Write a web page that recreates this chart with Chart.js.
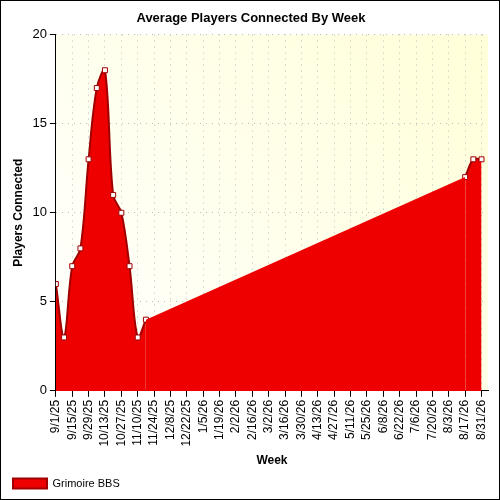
<!DOCTYPE html>
<html><head><script src="https://cdn.jsdelivr.net/npm/chart.js@4"></script>
<style>body{margin:0;background:#fff}#w{width:498px;height:498px;border:1px solid #000;position:relative}</style></head>
<body><div id="w"><canvas id="c" width="498" height="498"></canvas></div>
<script>
const weeks=[0,1,2,3,4,5,6,7,8,9,10,11,50,51,52];
const players=[6,3,7,8,13,17,18,11,10,7,3,4,12,13,13];
const tickLabels=["9/1/25","9/15/25","9/29/25","10/13/25","10/27/25","11/10/25","11/24/25","12/8/25","12/22/25","1/5/26","1/19/26","2/2/26","2/16/26","3/2/26","3/16/26","3/30/26","4/13/26","4/27/26","5/11/26","5/25/26","6/8/26","6/22/26","7/6/26","7/20/26","8/3/26","8/17/26","8/31/26"];
const pts=weeks.map((w,i)=>({x:w,y:players[i]}));
const bg={id:'bg',beforeDraw(ch){const a=ch.chartArea,x=ch.ctx;const g=x.createLinearGradient(a.left,a.bottom,a.right,a.top);g.addColorStop(0,'#ffffff');g.addColorStop(1,'#ffffd8');x.save();x.fillStyle=g;x.fillRect(a.left,a.top,a.right-a.left,a.bottom-a.top);x.restore();}};
const base={borderColor:'#a00000',borderWidth:2,backgroundColor:'#ee0000',fill:'origin',tension:0.35,pointStyle:'rect',pointRadius:3.5,pointBackgroundColor:'#fff',pointBorderColor:'#a00000',pointBorderWidth:1};
new Chart(document.getElementById('c'),{type:'line',
data:{datasets:[
{...base,label:'gap',data:pts.slice(11,13),tension:0,borderWidth:0,pointRadius:0},
{...base,label:'Grimoire BBS',data:pts.slice(0,12)},
{...base,label:'end',data:pts.slice(12)}]},
options:{responsive:false,animation:false,layout:{padding:{left:6,right:4,top:0,bottom:0}},
plugins:{title:{display:true,text:'Average Players Connected By Week',font:{family:'Arial, Liberation Sans',size:13,weight:'bold'},color:'#000',padding:{top:10,bottom:8}},
legend:{position:'bottom',align:'start',labels:{filter:i=>i.text==='Grimoire BBS',font:{family:'Liberation Sans',size:11},color:'#000',boxWidth:34,boxHeight:10,padding:6}}},
scales:{x:{type:'linear',min:0,max:52.8,afterBuildTicks:s=>{s.ticks=tickLabels.map((_,i)=>({value:i*2}));},ticks:{autoSkip:false,maxRotation:90,minRotation:90,color:'#000',font:{family:'Liberation Sans',size:12},callback:v=>tickLabels[v/2]??''},grid:{color:'#bbb',tickColor:'#000',tickLength:6},border:{color:'#000',dash:[1,5]},title:{display:true,text:'Week',font:{family:'Liberation Sans',size:12,weight:'bold'},color:'#000'}},
y:{min:0,max:20,ticks:{stepSize:5,color:'#000',font:{family:'Liberation Sans',size:13}},grid:{color:'#bbb',tickColor:'#000',tickLength:6},border:{color:'#000',dash:[1,5]},title:{display:true,text:'Players Connected',font:{family:'Liberation Sans',size:12,weight:'bold'},color:'#000'}}}},
plugins:[bg]});
</script></body></html>
